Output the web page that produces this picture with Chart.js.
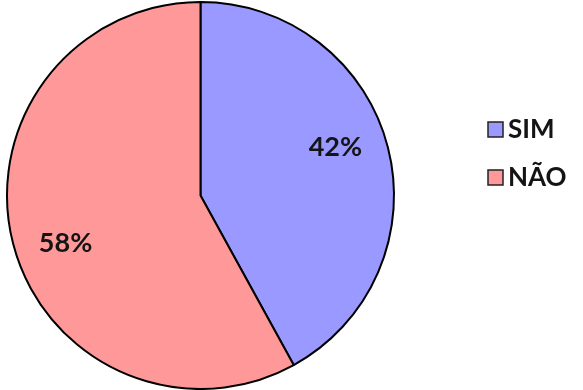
<!DOCTYPE html>
<html lang="pt-BR">
<head>
  <meta charset="UTF-8">
  <title>SIM / NÃO</title>
  <script src="https://cdn.jsdelivr.net/npm/chart.js"></script>
  <style>
    html, body { margin: 0; padding: 0; background: #fff; }
    #grafico { display: block; }
  </style>
</head>
<body>
  <canvas id="grafico" width="583" height="390"></canvas>

  <script>
    const labels = ['SIM', 'NÃO'];
    const valores = [42, 58];
    const cores = ['#9999ff', '#ff9999'];

    // rótulos de porcentagem dentro das fatias + legenda à direita
    const rotulos = {
      id: 'rotulos',
      afterDatasetsDraw(chart) {
        const ctx = chart.ctx;
        const meta = chart.getDatasetMeta(0);
        const total = valores.reduce((a, b) => a + b, 0);
        ctx.save();
        ctx.font = 'bold 27px Lato';
        ctx.fillStyle = '#141414';
        ctx.textAlign = 'center';
        ctx.textBaseline = 'middle';
        meta.data.forEach((arc, i) => {
          const p = arc.getProps(['x', 'y', 'startAngle', 'endAngle', 'outerRadius']);
          const meio = (p.startAngle + p.endAngle) / 2 - 0.09;
          const r = p.outerRadius * 0.74;
          const pct = Math.round(valores[i] / total * 100) + '%';
          ctx.fillText(pct, p.x + Math.cos(meio) * r, p.y + Math.sin(meio) * r);
        });

        // legenda
        const lx = chart.chartArea.right + 93;
        let ly = 129;
        ctx.font = 'bold 26px Lato';
        labels.forEach((nome, i) => {
          ctx.fillStyle = cores[i];
          ctx.fillRect(lx, ly - 7, 15, 15);
          ctx.strokeStyle = '#222';
          ctx.lineWidth = 1.5;
          ctx.strokeRect(lx, ly - 7, 15, 15);
          ctx.fillStyle = '#141414';
          ctx.textAlign = 'left';
          ctx.fillText(nome, lx + 20, ly + 1);
          ly += 48;
        });
        ctx.restore();
      }
    };

    new Chart(document.getElementById('grafico'), {
      type: 'pie',
      data: {
        labels: labels,
        datasets: [{
          data: valores,
          backgroundColor: cores,
          borderColor: '#000',
          borderWidth: 2
        }]
      },
      options: {
        responsive: false,
        animation: false,
        layout: { padding: { left: 6, top: 1, right: 188, bottom: 0 } },
        plugins: {
          legend: { display: false },
          tooltip: { enabled: false }
        }
      },
      plugins: [rotulos]
    });
  </script>
</body>
</html>
